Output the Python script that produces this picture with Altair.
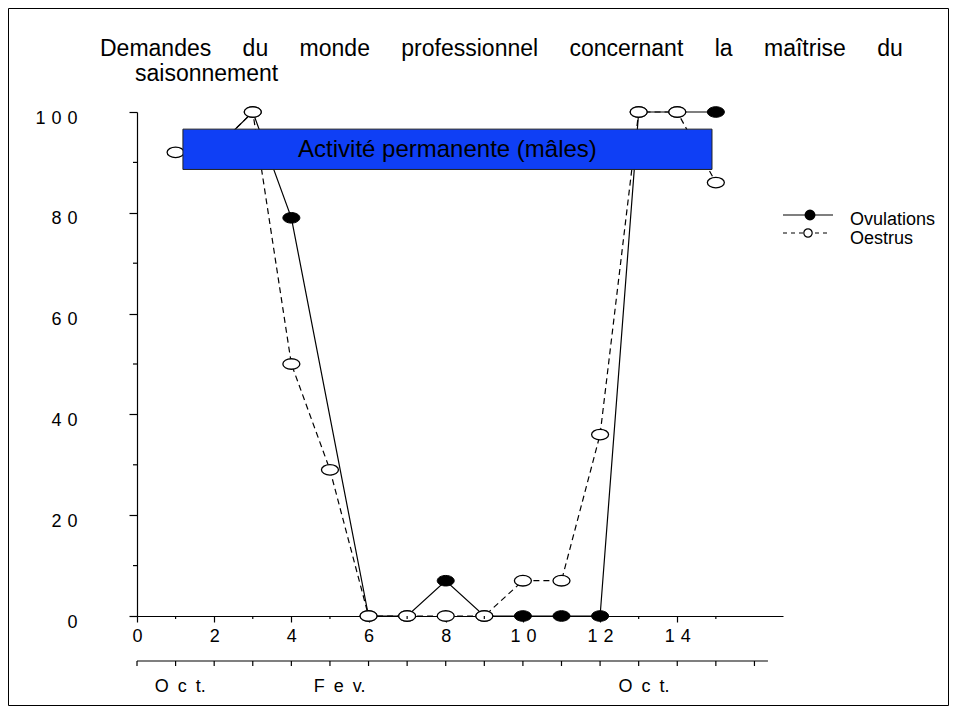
import altair as alt
import pandas as pd

# ---------------- data ----------------
series_names = ["Ovulations", "Oestrus"]
ovul_x = [2, 3, 4, 6, 7, 8, 9, 10, 11, 12, 13, 14, 15]
ovul_y = [92.5, 100, 79, 0, 0, 7, 0, 0, 0, 0, 100, 100, 100]
oest_x = [1, 2, 3, 4, 5, 6, 7, 8, 9, 10, 11, 12, 13, 14, 15]
oest_y = [92, 92.5, 100, 50, 29, 0, 0, 0, 0, 7, 7, 36, 100, 100, 86]

x_major = [0, 2, 4, 6, 8, 10, 12, 14]
x_minor = [1, 3, 5, 7, 9, 11, 13, 15]
y_major = [0, 20, 40, 60, 80, 100]
y_minor = [10, 30, 50, 70, 90]
x_max = 16.74

month_ticks = list(range(0, 17))
month_axis_end = 16.35
month_labels = ["O c t.", "F e v.", "O c t."]
month_pos = [1.12, 5.25, 13.14]

box_label = "Activité permanente (mâles)"
box_x = [1.19, 14.9]
box_y = [88.6, 96.6]

title_line1 = ["Demandes", "du", "monde", "professionnel", "concernant", "la", "maîtrise", "du"]
title_line2 = ["saisonnement"]

# ---------------- layout (page pixels) ----------------
PLOT_LEFT, PLOT_TOP = 137, 112
W, H = 646, 504
TOTAL_W, TOTAL_H = 941, 698
FONT = "Liberation Sans"
DIGIT_GAP = "\u2004"   # wider gap between spaced-out characters
LETTER_GAP = "\u2002"

def vx(px):
    return px - PLOT_LEFT

def vy(py):
    return py - PLOT_TOP

title1_left = [100, 242.6, 299.6, 401.3, 569.5, 714.7, 764, 877.2]
title1_base = 56
title2_left = [135]
title2_base = 81

ELLIPSE = ("M-1,0C-1,-0.342,-0.552,-0.62,0,-0.62C0.552,-0.62,1,-0.342,1,0"
           "C1,0.342,0.552,0.62,0,0.62C-0.552,0.62,-1,0.342,-1,0Z")

xs = alt.Scale(domain=[0, x_max], nice=False, zero=False)
ys = alt.Scale(domain=[0, 100], nice=False)

ov = pd.DataFrame({"x": ovul_x, "y": ovul_y})
oe = pd.DataFrame({"x": oest_x, "y": oest_y})

spaced = "join(split(datum.label, ''), '" + DIGIT_GAP + "')"

x_axis = alt.Axis(values=x_major, tickSize=6, labelPadding=14, labelBaseline="middle",
                  labelExpr=spaced, labelFont=FONT, labelFontSize=18, labelColor="black",
                  domainColor="black", tickColor="black", domainWidth=1.2, tickWidth=1.2,
                  grid=False, title=None, labelFlush=False, labelOverlap=False)
y_axis = alt.Axis(values=y_major, tickSize=8, labelPadding=52, labelBaseline="middle",
                  labelOffset=6, labelExpr=spaced, labelFont=FONT, labelFontSize=18,
                  labelColor="black", domainColor="black", tickColor="black",
                  domainWidth=1.2, tickWidth=1.2, grid=False, title=None,
                  labelOverlap=False)

def X(field):
    return alt.X(field, scale=xs, axis=x_axis)

def Y(field):
    return alt.Y(field, scale=ys, axis=y_axis)

ov_line = alt.Chart(ov).mark_line(color="black", strokeWidth=1.2).encode(x=X("x:Q"), y=Y("y:Q"))
oe_line = alt.Chart(oe).mark_line(color="black", strokeWidth=1.2, strokeDash=[6, 4]).encode(
    x=X("x:Q"), y=Y("y:Q"))
ov_pts = alt.Chart(ov).mark_point(shape=ELLIPSE, size=289, filled=True, fill="black",
                                   stroke="black", strokeWidth=1, opacity=1).encode(
    x=X("x:Q"), y=Y("y:Q"))
oe_pts = alt.Chart(oe).mark_point(shape=ELLIPSE, size=289, filled=True, fill="white",
                                   stroke="black", strokeWidth=1.3, opacity=1).encode(
    x=X("x:Q"), y=Y("y:Q"))

# minor ticks
x_minor_ticks = alt.Chart(pd.DataFrame({"x": x_minor})).mark_rule(color="black", strokeWidth=1.2).encode(
    x=X("x:Q"), y=alt.value(H), y2=alt.value(H + 3))
y_minor_ticks = alt.Chart(pd.DataFrame({"y": y_minor})).mark_rule(color="black", strokeWidth=1.2).encode(
    y=Y("y:Q"), x=alt.value(-4), x2=alt.value(0))

# annotation box
box_df = pd.DataFrame({"x": [box_x[0]], "x2": [box_x[1]], "y": [box_y[0]], "y2": [box_y[1]],
                       "cx": [(box_x[0] + box_x[1]) / 2], "cy": [(box_y[0] + box_y[1]) / 2],
                       "label": [box_label]})
box = alt.Chart(box_df).mark_rect(fill="#0f3ff5", stroke="#222222", strokeWidth=1).encode(
    x=X("x:Q"), x2="x2:Q", y=Y("y:Q"), y2="y2:Q")
box_text = alt.Chart(box_df).mark_text(font=FONT, fontSize=24, color="black",
                                       align="center", baseline="middle", dy=1).encode(
    x=X("cx:Q"), y=Y("cy:Q"), text="label:N")

# month axis
m_axis_line = alt.Chart(pd.DataFrame({"x": [0], "x2": [month_axis_end]})).mark_rule(
    color="black", strokeWidth=1.2).encode(x=X("x:Q"), x2="x2:Q", y=alt.value(vy(661)))
m_ticks = alt.Chart(pd.DataFrame({"x": month_ticks})).mark_rule(color="black", strokeWidth=1.2).encode(
    x=X("x:Q"), y=alt.value(vy(661)), y2=alt.value(vy(666)))
m_df = pd.DataFrame({"x": month_pos, "l": month_labels})
m_labels = alt.Chart(m_df).transform_calculate(
    shown="join(split(datum.l, ' '), '" + LETTER_GAP + "')"
).mark_text(font=FONT, fontSize=18, color="black", align="center", baseline="middle").encode(
    x=X("x:Q"), y=alt.value(vy(687)), text="shown:N")

layers = [ov_line, oe_line, ov_pts, oe_pts, x_minor_ticks, y_minor_ticks, box, box_text,
          m_axis_line, m_ticks, m_labels]

# title words
for words, lefts, base in [(title_line1, title1_left, title1_base), (title_line2, title2_left, title2_base)]:
    for w, lx in zip(words, lefts):
        layers.append(alt.Chart(pd.DataFrame({"w": [w]})).mark_text(
            font=FONT, fontSize=23, color="black", align="left", baseline="alphabetic").encode(
            x=alt.value(vx(lx)), y=alt.value(vy(base)), text="w:N"))

# legend
one = pd.DataFrame({"d": [0]})
layers.append(alt.Chart(one).mark_rule(color="black", strokeWidth=1.2).encode(
    x=alt.value(vx(783)), x2=alt.value(vx(833)), y=alt.value(vy(215))))
layers.append(alt.Chart(one).mark_rule(color="black", strokeWidth=1.2, strokeDash=[4, 4]).encode(
    x=alt.value(vx(783)), x2=alt.value(vx(830)), y=alt.value(vy(233))))
layers.append(alt.Chart(one).mark_point(shape="circle", size=80, filled=True, fill="black",
                                        stroke="black", opacity=1).encode(
    x=alt.value(vx(810)), y=alt.value(vy(215))))
layers.append(alt.Chart(one).mark_point(shape="circle", size=70, filled=True, fill="white",
                                        stroke="black", strokeWidth=1.2, opacity=1).encode(
    x=alt.value(vx(808)), y=alt.value(vy(233))))
for name, py in zip(series_names, [220, 239]):
    layers.append(alt.Chart(pd.DataFrame({"n": [name]})).mark_text(
        font=FONT, fontSize=18, color="black", align="left", baseline="middle").encode(
        x=alt.value(vx(850)), y=alt.value(vy(py)), text="n:N"))

# outer frame
layers.append(alt.Chart(one).mark_rect(fill=None, stroke="black", strokeWidth=1).encode(
    x=alt.value(vx(8.5)), x2=alt.value(vx(TOTAL_W + 8 - 0.5)),
    y=alt.value(vy(8.5)), y2=alt.value(vy(TOTAL_H + 8 - 0.5))))

chart = alt.layer(*layers).properties(
    width=W, height=H,
    padding={"left": PLOT_LEFT - 8, "top": PLOT_TOP - 8,
             "right": TOTAL_W - (PLOT_LEFT - 8) - W, "bottom": TOTAL_H - (PLOT_TOP - 8) - H},
    autosize=alt.AutoSizeParams(type="none"),
).configure(background="white").configure_view(stroke=None)

chart.save("out.html", embed_options={"renderer": "svg", "actions": False})
